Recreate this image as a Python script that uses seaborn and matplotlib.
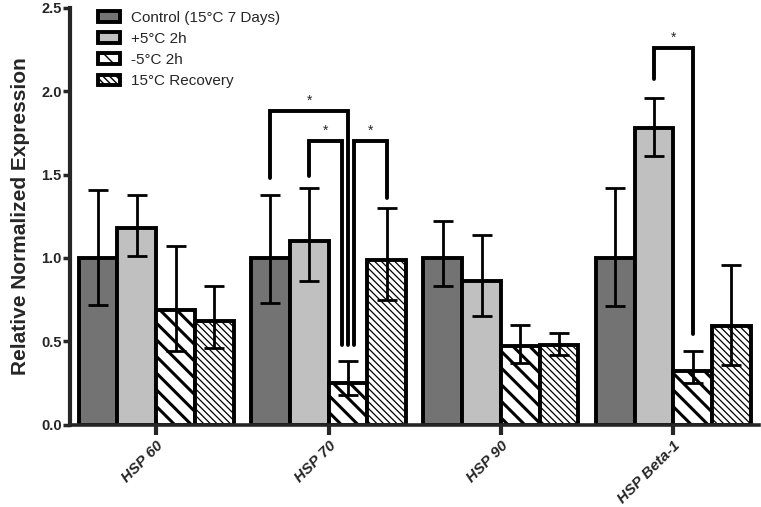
import numpy as np
import pandas as pd
import matplotlib
matplotlib.use('Agg')
import matplotlib.pyplot as plt
import seaborn as sns

# values
genes = ['HSP 60', 'HSP 70', 'HSP 90', 'HSP Beta-1']
conditions = ['Control (15°C 7 Days)', '+5°C 2h', '-5°C 2h', '15°C Recovery']

control = [1.00, 1.00, 1.00, 1.00]
plus5 = [1.18, 1.10, 0.86, 1.78]
minus5 = [0.69, 0.25, 0.47, 0.32]
recovery = [0.62, 0.99, 0.48, 0.59]

control_lo = [0.72, 0.73, 0.83, 0.71]
control_hi = [1.41, 1.38, 1.22, 1.42]
plus5_lo = [1.01, 0.86, 0.65, 1.61]
plus5_hi = [1.38, 1.42, 1.14, 1.96]
minus5_lo = [0.44, 0.18, 0.37, 0.25]
minus5_hi = [1.07, 0.38, 0.60, 0.44]
recovery_lo = [0.46, 0.75, 0.42, 0.36]
recovery_hi = [0.83, 1.30, 0.55, 0.96]

colors = ['#737373', '#c0c0c0', '#ffffff', '#ffffff']
hatches = [None, None, '\\\\', '\\\\\\\\\\']
hatch_lw = [1.0, 1.0, 2.2, 0.9]

means = [control, plus5, minus5, recovery]
lows = [control_lo, plus5_lo, minus5_lo, recovery_lo]
highs = [control_hi, plus5_hi, minus5_hi, recovery_hi]

df = pd.DataFrame({
    'gene': np.tile(genes, len(conditions)),
    'condition': np.repeat(conditions, len(genes)),
    'value': np.concatenate(means),
})


def bracket(ax, x1, x2, y_top, y1, y2, text_y):
    ax.plot([x1, x1, x2, x2], [y1, y_top, y_top, y2], color='black',
            lw=2.8, solid_joinstyle='miter', clip_on=False, zorder=5)
    ax.text((x1 + x2) / 2, text_y, '*', ha='center', va='center',
            fontsize=10)


def main():
    sns.set_style('ticks')
    plt.rcParams['font.family'] = ['Liberation Sans', 'DejaVu Sans']

    fig = plt.figure(figsize=(7.61, 5.07), dpi=100)
    ax = fig.add_axes([0.092, 0.162, 0.906, 0.823])

    sns.barplot(data=df, x='gene', y='value', hue='condition',
                order=genes, hue_order=conditions, palette=colors,
                width=0.9, gap=0, errorbar=None, saturation=1,
                edgecolor='black', linewidth=2.8, ax=ax, legend=False)

    bar_containers = list(ax.containers)
    for k, cont in enumerate(bar_containers):
        for i, bar in enumerate(cont):
            bar.set_edgecolor('black')
            if hatches[k]:
                bar.set_hatch(hatches[k])
                if hasattr(bar, 'set_hatch_linewidth'):
                    bar.set_hatch_linewidth(hatch_lw[k])
            x = bar.get_x() + bar.get_width() / 2
            m = means[k][i]
            ax.errorbar(x, m, yerr=[[m - lows[k][i]], [highs[k][i] - m]],
                        color='black', elinewidth=2.0, capsize=7,
                        capthick=2.0, zorder=4)

    # significance brackets (bar centres at +-0.1125, +-0.3375)
    bracket(ax, 1 - 0.3375, 1 + 0.1125, 1.88, 1.48, 0.48, 1.94)
    bracket(ax, 1 - 0.1125, 1 + 0.1125 - 0.035, 1.70, 1.49, 0.48, 1.76)
    bracket(ax, 1 + 0.1125 + 0.035, 1 + 0.3375, 1.70, 0.48, 1.36, 1.76)
    bracket(ax, 3 - 0.1125, 3 + 0.1125, 2.26, 2.07, 0.545, 2.32)

    ax.set_xlim(-0.5, 3.5)
    ax.set_ylim(0, 2.5)
    ax.set_yticks(np.arange(0, 2.51, 0.5))
    ax.set_yticklabels([f'{v:.1f}' for v in np.arange(0, 2.51, 0.5)],
                       fontsize=10.5, fontweight='bold')
    ax.set_xticks(range(len(genes)))
    ax.set_xticklabels(genes, rotation=45, ha='right', rotation_mode='anchor',
                       fontsize=11, fontweight='bold', fontstyle='italic')
    ax.set_xlabel('')
    ax.set_ylabel('Relative Normalized Expression', fontsize=15,
                  fontweight='bold', labelpad=8)

    sns.despine(ax=ax)
    ax.spines['left'].set_linewidth(3)
    ax.spines['bottom'].set_linewidth(2.6)
    ax.tick_params(axis='y', length=5, width=2.5, pad=1)
    ax.tick_params(axis='x', length=7, width=3, pad=3)

    handles = [cont[0] for cont in bar_containers]
    ax.legend(handles, conditions, loc='upper left',
              bbox_to_anchor=(0.032, 1.007), frameon=False, fontsize=11,
              handlelength=1.45, handleheight=0.72, labelspacing=0.47,
              handletextpad=0.7, borderaxespad=0)

    fig.savefig('out.png', dpi=100)
    plt.close(fig)


if __name__ == '__main__':
    main()
